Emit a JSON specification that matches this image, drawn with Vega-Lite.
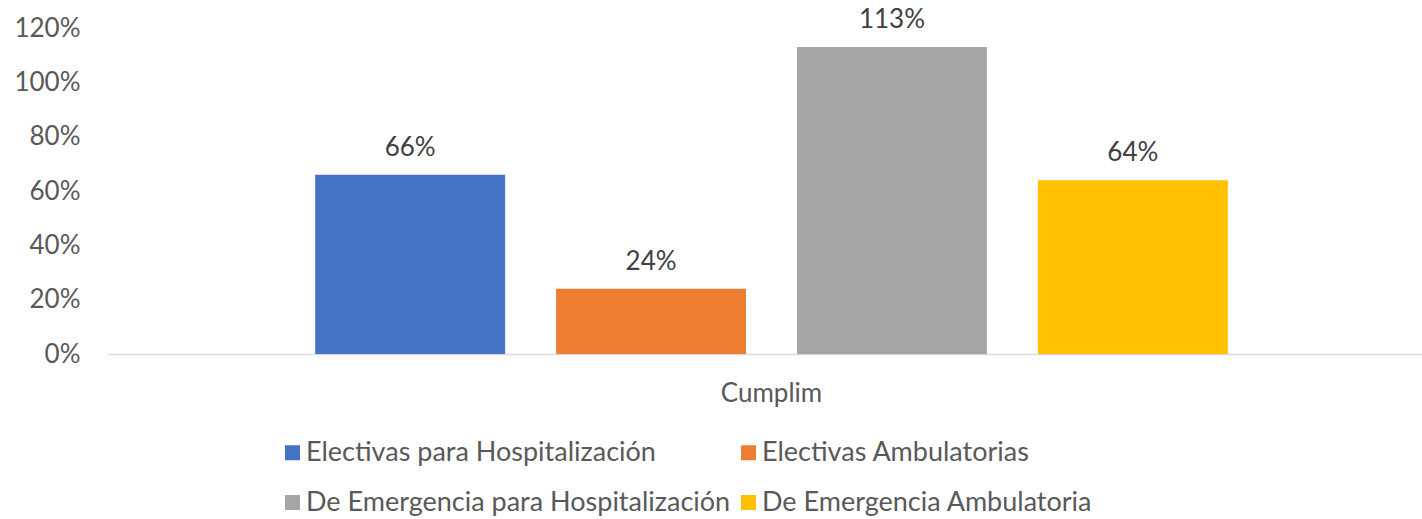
{
  "$schema": "https://vega.github.io/schema/vega-lite/v6.json",
  "width": 1327,
  "height": 326,
  "autosize": {"type": "none"},
  "padding": {"left": 108, "top": 28, "right": 0, "bottom": 165},
  "background": "white",
  "config": {
    "view": {"stroke": null},
    "font": "Lato",
    "text": {"font": "Lato"}
  },
  "data": {
    "values": [
      {"grupo": "Cumplim", "serie": "Electivas para Hospitalización", "valor": 0.66},
      {"grupo": "Cumplim", "serie": "Electivas Ambulatorias", "valor": 0.24},
      {"grupo": "Cumplim", "serie": "De Emergencia para Hospitalización", "valor": 1.13},
      {"grupo": "Cumplim", "serie": "De Emergencia Ambulatoria", "valor": 0.64}
    ]
  },
  "encoding": {
    "x": {
      "field": "grupo", "type": "nominal",
      "scale": {"paddingInner": 0, "paddingOuter": 0},
      "axis": {
        "title": null, "labelAngle": 0, "ticks": false, "labelPadding": 26,
        "labelFont": "Lato", "labelFontSize": 26, "labelColor": "#595959",
        "domainColor": "#d9d9d9", "domainWidth": 1.5
      }
    },
    "xOffset": {
      "field": "serie", "type": "nominal",
      "sort": ["Electivas para Hospitalización", "Electivas Ambulatorias", "De Emergencia para Hospitalización", "De Emergencia Ambulatoria"],
      "scale": {"paddingInner": 0.2116, "paddingOuter": 0.86}
    },
    "y": {
      "field": "valor", "type": "quantitative",
      "scale": {"domain": [0, 1.2], "nice": false},
      "axis": {
        "title": null, "format": ".0%", "values": [0, 0.2, 0.4, 0.6, 0.8, 1.0, 1.2],
        "grid": false, "domain": false, "ticks": false, "labelPadding": 28,
        "labelFont": "Lato", "labelFontSize": 26, "labelColor": "#595959"
      }
    }
  },
  "layer": [
    {
      "mark": {"type": "bar"},
      "encoding": {
        "color": {
          "field": "serie", "type": "nominal",
          "sort": ["Electivas para Hospitalización", "Electivas Ambulatorias", "De Emergencia para Hospitalización", "De Emergencia Ambulatoria"],
          "scale": {
            "domain": ["Electivas para Hospitalización", "Electivas Ambulatorias", "De Emergencia para Hospitalización", "De Emergencia Ambulatoria"],
            "range": ["#4472C4", "#ED7D31", "#A5A5A5", "#FFC000"]
          },
          "legend": {
            "title": null, "orient": "none", "legendX": 171, "legendY": 411,
            "direction": "horizontal",
            "columns": 2, "symbolType": "square", "symbolSize": 225,
            "symbolStrokeWidth": 0, "labelFont": "Lato", "labelFontSize": 27,
            "labelColor": "#595959", "rowPadding": 22, "columnPadding": 4,
            "labelOffset": 0, "labelLimit": 600
          }
        }
      }
    },
    {
      "mark": {"type": "text", "baseline": "alphabetic", "dy": -19, "font": "Lato", "fontSize": 26, "color": "#404040"},
      "encoding": {
        "text": {"field": "valor", "type": "quantitative", "format": ".0%"}
      }
    }
  ]
}
